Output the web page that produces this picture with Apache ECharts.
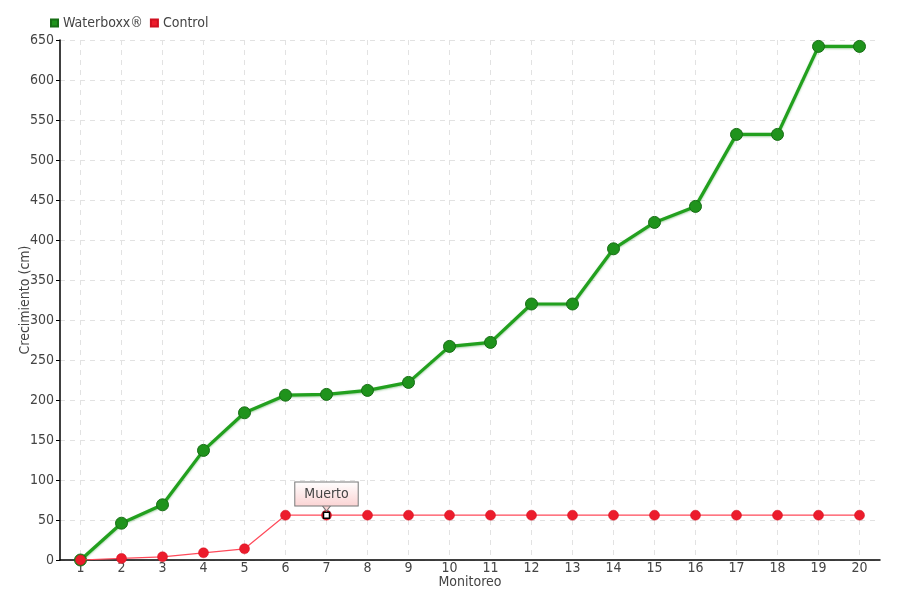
<!DOCTYPE html>
<html>
<head>
<meta charset="utf-8">
<script src="https://cdn.jsdelivr.net/npm/echarts@6/dist/echarts.min.js"></script>
<style>html,body{margin:0;padding:0;background:#fff}#c{width:900px;height:600px}</style>
</head>
<body>
<div id="c"></div>
<script>
const categories = ['1','2','3','4','5','6','7','8','9','10','11','12','13','14','15','16','17','18','19','20'];
const waterboxx = [0, 46, 69, 137, 184, 206, 207, 212, 222, 267, 272, 320, 320, 389, 422, 442, 532, 532, 642, 642];
const control = [0, 2, 4, 9, 14, 56, 56, 56, 56, 56, 56, 56, 56, 56, 56, 56, 56, 56, 56, 56];
const annotationIndex = 6;
const annotationText = 'Muerto';
const yTicks = {min: 0, max: 650, interval: 50};

const FONT = "'DejaVu Sans Condensed', 'Liberation Sans Narrow', 'Roboto', sans-serif";

const chart = echarts.init(document.getElementById('c'), null, {renderer: 'canvas'});
chart.setOption({
  animation: false,
  backgroundColor: '#fff',
  textStyle: {fontFamily: FONT},
  legend: {
    left: 45, top: 11,
    icon: 'rect', itemWidth: 7, itemHeight: 7, itemGap: 7,
    textStyle: {fontFamily: FONT, fontSize: 14, color: '#444'},
    data: ['Waterboxx®', 'Control']
  },
  grid: {left: 60, right: 20, top: 40, bottom: 40, containLabel: false, outerBoundsMode: 'none'},
  xAxis: {
    type: 'category',
    data: categories,
    boundaryGap: true,
    name: 'Monitoreo',
    nameLocation: 'middle',
    nameGap: 15,
    nameMoveOverlap: false,
    nameTextStyle: {fontFamily: FONT, fontSize: 14, color: '#444'},
    axisLine: {lineStyle: {color: '#000', width: 1.5}},
    axisTick: {show: false, alignWithLabel: true},
    axisLabel: {fontFamily: FONT, fontSize: 14, color: '#444', margin: 1, interval: 0},
    splitLine: {show: true, alignWithLabel: true, lineStyle: {color: '#e2e2e2', type: [5, 5], width: 1}}
  },
  yAxis: {
    type: 'value',
    min: yTicks.min, max: yTicks.max, interval: yTicks.interval,
    name: 'Crecimiento (cm)',
    nameLocation: 'middle',
    nameGap: 28,
    nameMoveOverlap: false,
    nameTextStyle: {fontFamily: FONT, fontSize: 14, color: '#444'},
    axisLine: {show: true, lineStyle: {color: '#000', width: 1.5}},
    axisTick: {show: true, length: 4, lineStyle: {color: '#000'}},
    axisLabel: {fontFamily: FONT, fontSize: 14, color: '#444', margin: 6},
    splitLine: {show: true, lineStyle: {color: '#e2e2e2', type: [5, 5], width: 1}}
  },
  series: [
    {
      name: 'Waterboxx®',
      type: 'line',
      data: waterboxx,
      symbol: 'circle',
      symbolSize: 12,
      color: '#22a01e',
      lineStyle: {color: '#22a01e', width: 3.2, shadowColor: 'rgba(30,140,30,0.4)', shadowBlur: 2, shadowOffsetY: 1},
      itemStyle: {color: '#1f931c', borderColor: '#176e15', borderWidth: 1},
      z: 2
    },
    {
      name: 'Control',
      type: 'line',
      data: control,
      symbol: 'circle',
      symbolSize: 10,
      color: '#ec1c2c',
      lineStyle: {color: '#ff4a5a', width: 1.2},
      itemStyle: {color: '#ec1c2c', borderColor: '#d01020', borderWidth: 0.5},
      z: 3,
      markPoint: {
        data: [
          {
            coord: [annotationIndex, control[annotationIndex]],
            symbol: 'rect',
            symbolSize: 6,
            itemStyle: {color: '#ffffff', borderColor: '#000000', borderWidth: 1.5},
            label: {
              show: true,
              position: 'top',
              distance: 6,
              formatter: annotationText,
              fontFamily: FONT,
              fontSize: 14,
              color: '#444',
              padding: [5, 9, 4, 9],
              borderColor: '#777',
              borderWidth: 1,
              backgroundColor: {
                type: 'linear', x: 0, y: 0, x2: 0, y2: 1,
                colorStops: [{offset: 0, color: '#ffffff'}, {offset: 1, color: '#fbd3d3'}]
              }
            }
          },
          {
            coord: [annotationIndex, control[annotationIndex]],
            symbol: 'triangle',
            symbolRotate: 180,
            symbolSize: [9, 6],
            symbolOffset: [0, -7],
            itemStyle: {color: '#fbd5d5', borderColor: '#777', borderWidth: 1},
            label: {show: false}
          }
        ]
      }
    }
  ]
});
</script>
</body>
</html>
